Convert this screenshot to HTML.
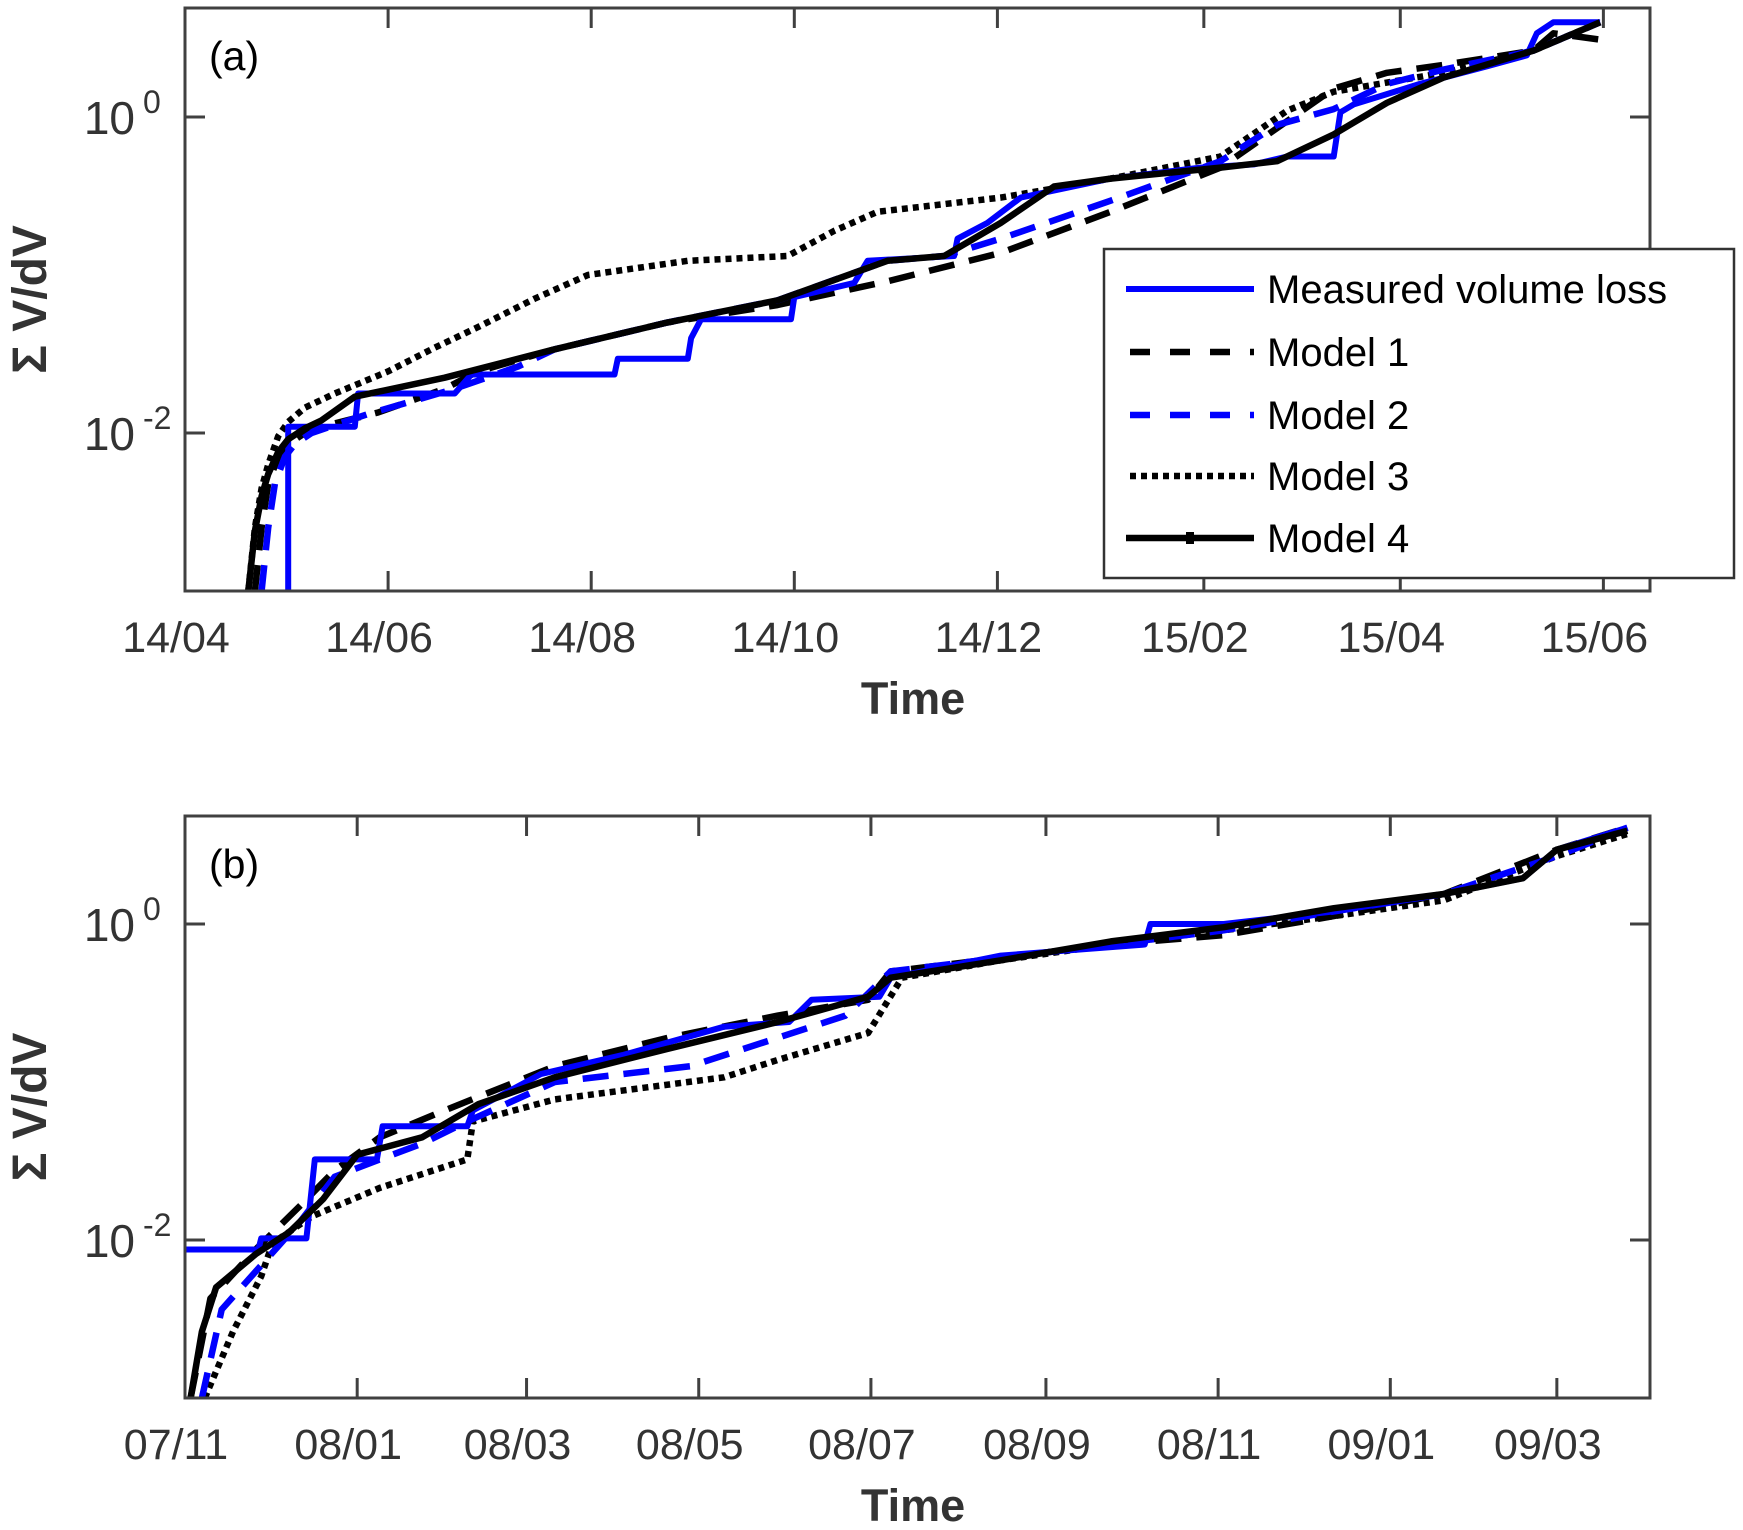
<!DOCTYPE html>
<html><head><meta charset="utf-8"><style>
body{margin:0;background:#fff}
svg{display:block;font-family:"Liberation Sans",Arial,sans-serif}
</style></head><body>
<svg id="fig" width="1743" height="1530" viewBox="0 0 1743 1530"></svg>
<script>
// Panel (a): x = days since 2014-04-01, y = log10(ΣV/dV)
const aTickLabels = ["14/04","14/06","14/08","14/10","14/12","15/02","15/04","15/06"];
const aTickDays = [0,61,122,183,244,306,365,426];
const aMeasDays = [31,31,51,52,81,86,129,130,151,152,155,182,183,201,205,231,232,241,251,278,305,321,331,345,347,351,371,391,403,406,411,425];
const aMeasLog = [-3,-1.96,-1.96,-1.75,-1.75,-1.63,-1.63,-1.53,-1.53,-1.40,-1.28,-1.28,-1.14,-1.05,-0.91,-0.88,-0.77,-0.67,-0.51,-0.39,-0.32,-0.30,-0.25,-0.25,0.03,0.08,0.21,0.32,0.39,0.53,0.6,0.6];
const aM1Days = [21,23,25,28,31,36,41,58,78,88,111,145,178,211,245,278,311,328,345,361,378,405,411,425];
const aM1Log = [-3,-2.6,-2.32,-2.15,-2.07,-2.0,-1.96,-1.87,-1.72,-1.61,-1.47,-1.30,-1.19,-1.04,-0.86,-0.60,-0.32,-0.07,0.18,0.28,0.33,0.42,0.53,0.49];
const aM2Days = [23,25,27,30,33,38,45,55,81,100,111,145,178,211,228,245,278,311,328,345,361,378,405,425];
const aM2Log = [-3,-2.6,-2.32,-2.15,-2.07,-2.0,-1.95,-1.88,-1.72,-1.58,-1.47,-1.30,-1.16,-0.91,-0.88,-0.77,-0.53,-0.28,-0.05,0.05,0.21,0.30,0.42,0.6];
const aM3Days = [19,21,23,25,28,31,36,45,61,75,88,105,121,151,181,195,208,245,278,311,331,345,378,405,425];
const aM3Log = [-3,-2.6,-2.35,-2.2,-2.02,-1.93,-1.84,-1.75,-1.61,-1.46,-1.33,-1.15,-1.0,-0.91,-0.88,-0.72,-0.60,-0.51,-0.39,-0.25,0.04,0.16,0.28,0.42,0.6];
const aM4Days = [19,21,23,25,28,31,36,41,51,78,111,145,178,211,228,245,261,278,311,328,345,361,378,405,425];
const aM4Log = [-3,-2.62,-2.4,-2.26,-2.12,-2.04,-1.97,-1.92,-1.77,-1.65,-1.47,-1.30,-1.16,-0.91,-0.88,-0.67,-0.44,-0.39,-0.32,-0.28,-0.11,0.09,0.25,0.42,0.6];
// Panel (b): x = days since 2007-11-01
const bTickLabels = ["07/11","08/01","08/03","08/05","08/07","08/09","08/11","09/01","09/03"];
const bTickDays = [0,61,121,182,243,305,366,427,486];
const bMeasDays = [0,26,27,43,46,68,70,100,102,126,155,177,191,214,222,246,250,289,340,342,368,407,446,474,486,511];
const bMeasLog = [-2.06,-2.06,-1.99,-1.99,-1.49,-1.49,-1.28,-1.28,-1.18,-0.95,-0.83,-0.72,-0.65,-0.62,-0.48,-0.46,-0.34,-0.2,-0.13,0,0,0.08,0.19,0.29,0.47,0.61];
const bM1Days = [2,9,25,41,53,69,92,131,171,210,242,250,328,368,407,446,486,511];
const bM1Log = [-3,-2.37,-2.06,-1.78,-1.56,-1.35,-1.18,-0.90,-0.72,-0.58,-0.48,-0.30,-0.13,-0.07,0.05,0.19,0.47,0.61];
const bM2Days = [6,13,25,41,53,69,84,100,131,179,210,234,250,328,368,407,446,486,511];
const bM2Log = [-3,-2.44,-2.20,-1.88,-1.60,-1.49,-1.39,-1.25,-1.00,-0.90,-0.72,-0.58,-0.30,-0.13,-0.04,0.08,0.19,0.43,0.61];
const bM3Days = [7,17,27,31,45,69,100,102,131,191,210,242,254,289,328,368,407,446,486,511];
const bM3Log = [-3,-2.58,-2.23,-2.02,-1.85,-1.67,-1.49,-1.25,-1.11,-0.97,-0.86,-0.69,-0.34,-0.23,-0.13,-0.04,0.05,0.15,0.43,0.57];
const bM4Days = [2,6,11,25,37,49,61,84,104,131,171,210,242,250,289,328,368,407,446,474,486,511];
const bM4Log = [-3,-2.58,-2.30,-2.09,-1.95,-1.74,-1.46,-1.35,-1.14,-0.97,-0.79,-0.62,-0.46,-0.34,-0.23,-0.11,-0.02,0.1,0.19,0.29,0.47,0.59];

const NS="http://www.w3.org/2000/svg";
const svg=document.getElementById('fig');
function mk(tag,attrs,parent){const e=document.createElementNS(NS,tag);for(const k in attrs)e.setAttribute(k,attrs[k]);(parent||svg).appendChild(e);return e;}
const AX="#404040";
const styles={
 meas:{stroke:"#0000ff",dash:"none",w:6},
 m1:{stroke:"#000",dash:"26 15",w:6.5},
 m2:{stroke:"#0000ff",dash:"26 15",w:6.5},
 m3:{stroke:"#000",dash:"6 5",w:6.5},
 m4:{stroke:"#000",dash:"none",w:6.5}
};
function panel(id,top,bottom,xmax,tickDays,tickLabels,series,tag){
  const L=185,R=1650,logMin=-3,dec=158;
  const g=mk('g',{});
  
  
  const xs=d=>L+(R-L)*d/xmax;
  const ys=v=>bottom-(v-logMin)*dec;
  const clip=mk('clipPath',{id:'clip'+id},g);
  mk('rect',{x:L,y:top,width:R-L,height:bottom-top},clip);
  const plot=mk('g',{'clip-path':'url(#clip'+id+')'},g);
  series.forEach(s=>{
    const st=styles[s.key];
    const pts=s.d.map((d,i)=>xs(d).toFixed(1)+','+ys(s.v[i]).toFixed(1)).join(' ');
    const p=mk('polyline',{points:pts,fill:'none',stroke:st.stroke,'stroke-width':st.w,'stroke-dasharray':st.dash,'stroke-linejoin':'round'},plot);
    
    
  });
  const box=mk('rect',{x:L,y:top,width:R-L,height:bottom-top,fill:'none',stroke:AX,'stroke-width':3},g);
  
  
  tickDays.forEach((d,i)=>{
    const x=xs(d);
    mk('line',{x1:x,y1:bottom,x2:x,y2:bottom-20,stroke:AX,'stroke-width':3},g);
    mk('line',{x1:x,y1:top,x2:x,y2:top+20,stroke:AX,'stroke-width':3},g);
    const t=mk('text',{x:x-9,y:bottom+61,'text-anchor':'middle','font-size':43,fill:'#333'},g);
    t.textContent=tickLabels[i];
    
    
  });
  [[0,'0'],[-2,'-2']].forEach(([v,s])=>{
    const y=ys(v);
    mk('line',{x1:L,y1:y,x2:L+20,y2:y,stroke:AX,'stroke-width':3},g);
    mk('line',{x1:R,y1:y,x2:R-20,y2:y,stroke:AX,'stroke-width':3},g);
    const t=mk('text',{x:135,y:y+17,'text-anchor':'end','font-size':46,fill:'#333'},g);
    t.textContent='10';
    
    
    const e=mk('text',{x:143,y:y-4,'font-size':32,fill:'#333'},g);
    e.textContent=s;
  });
  const xt=mk('text',{x:913,y:bottom+123,'text-anchor':'middle','font-size':45,'font-weight':'bold',fill:'#333'},g);
  xt.textContent='Time';
  
  
  const cy=(top+bottom)/2;
  const yt=mk('text',{x:46,y:cy,'text-anchor':'middle','font-size':48,'font-weight':'bold',fill:'#333',transform:`rotate(-90 46 ${cy})`},g);
  yt.textContent='Σ V/dV';
  
  
  const pl=mk('text',{x:209,y:top+62,'font-size':41,fill:'#000'},g);
  pl.textContent=tag;
  
  
}
panel('a',8,591,440,aTickDays,aTickLabels,[
 {key:'m3',d:aM3Days,v:aM3Log},{key:'m1',d:aM1Days,v:aM1Log},{key:'m2',d:aM2Days,v:aM2Log},
 {key:'meas',d:aMeasDays,v:aMeasLog},{key:'m4',d:aM4Days,v:aM4Log}],'(a)');
panel('b',816,1398,519,bTickDays,bTickLabels,[
 {key:'m3',d:bM3Days,v:bM3Log},{key:'m1',d:bM1Days,v:bM1Log},{key:'m2',d:bM2Days,v:bM2Log},
 {key:'meas',d:bMeasDays,v:bMeasLog},{key:'m4',d:bM4Days,v:bM4Log}],'(b)');

// legend
const lg=mk('g',{});


mk('rect',{x:1104,y:249,width:630,height:329,fill:'#fff',stroke:'#333','stroke-width':2.5},lg);
const legNames=["Measured volume loss","Model 1","Model 2","Model 3","Model 4"];
const legKeys=["meas","m1","m2","m3","m4"];
const legY=[289,352,415,476,538];
legKeys.forEach((k,i)=>{
  const st=styles[k];
  const e=mk('g',{},lg);
  
  
  const x1=(k==='meas'||k==='m4')?1126:1130;
  mk('line',{x1:x1,y1:legY[i],x2:1254,y2:legY[i],stroke:st.stroke,'stroke-width':st.w,'stroke-dasharray':k==='m3'?'6 5':(st.dash==='none'?'none':'20 20')},e);
  if(k==='m4') mk('rect',{x:1186,y:legY[i]-6,width:8,height:12,fill:'#000'},e);
  const t=mk('text',{x:1267,y:legY[i]+14,'font-size':40,fill:'#000'},e);
  t.textContent=legNames[i];
});
</script>
</body></html>
